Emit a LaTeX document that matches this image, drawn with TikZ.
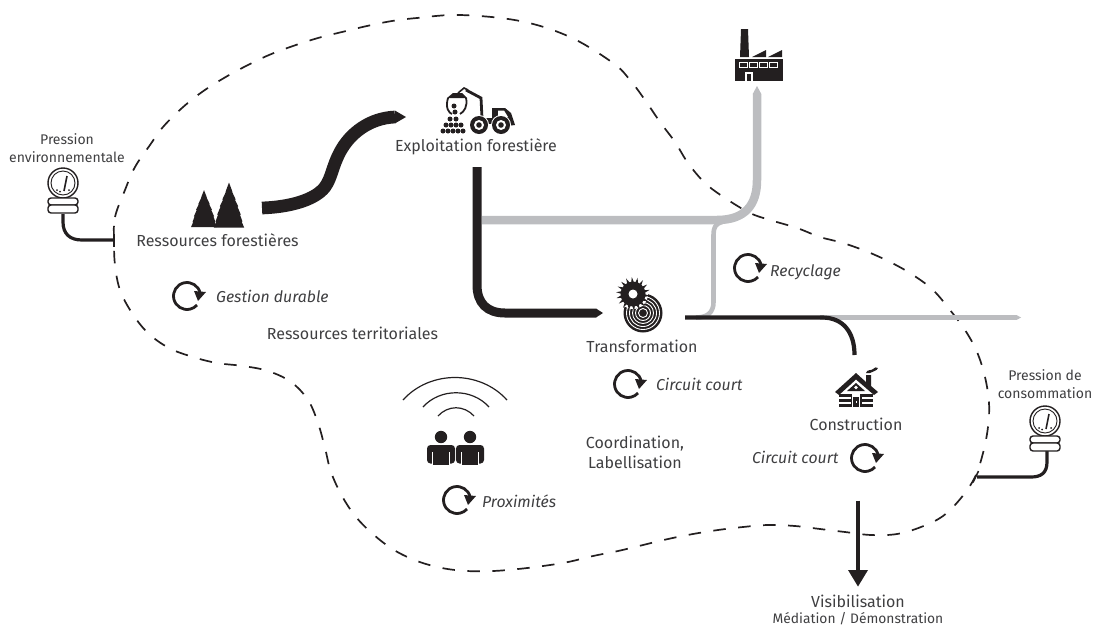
\documentclass[tikz,border=0pt]{standalone}
\usepackage{fontspec}
\setmainfont{Fira Sans}
\definecolor{ink}{HTML}{231F20}
\definecolor{txt}{HTML}{3F3F41}
\definecolor{pipe}{HTML}{BCBDC0}
\tikzset{
  lab/.style={text=txt,font=\fontsize{16}{18}\selectfont,inner sep=0pt,align=center},
  ital/.style={lab,font=\fontsize{15.8}{18}\selectfont\itshape,anchor=west},
  small/.style={lab,font=\fontsize{14}{18}\selectfont},
  boundary/.style={draw=ink,line width=1.7pt,dash pattern=on 12.5pt off 12.5pt},
  darkpipe/.style={draw=ink,line cap=butt},
  greypipe/.style={draw=pipe,line cap=butt},
  cycle/.pic={
    \draw[ink,line width=2.8pt] (-12:13.5) arc[start angle=-12,end angle=-318,radius=13.5];
    \fill[ink] (7,-5) -- (19,-4) -- (11,5) -- cycle;
  },
  gauge/.pic={
    \draw[ink,line width=1.4pt,fill=white] (0,0) circle[radius=15];
    \draw[ink,line width=.9pt] (0,0) circle[radius=12];
    \draw[ink,line width=1.6pt] (1,8) -- (4,-7);
    \fill[ink] (-6,7) circle[radius=1] (6,7) circle[radius=1] (-3,8.5) circle[radius=1];
    \draw[ink,line width=1.4pt,fill=white,rounded corners=3pt] (-15,15) rectangle (15,22);
    \draw[ink,line width=1.4pt,fill=white,rounded corners=3pt] (-15,22) rectangle (15,30);
  },
  fir/.pic={
    \fill[ink] (0,-45) -- (4,-36) -- (3.5,-36) -- (8,-28) -- (7,-28) -- (11,-21) -- (10,-21) -- (14,-13) -- (13,-13) -- (16,-6) -- (15,-6) -- (18,0) -- (-18,0) -- (-15,-6) -- (-16,-6) -- (-13,-13) -- (-14,-13) -- (-10,-21) -- (-11,-21) -- (-7,-28) -- (-8,-28) -- (-3.5,-36) -- (-4,-36) -- cycle;
  },
  person/.pic={
    \fill[ink] (0,0) circle[radius=6.2];
    \fill[ink,rounded corners=3.5pt] (-14,8) rectangle (14,26.5);
    \fill[ink] (-8,18) rectangle (8,28);
    \fill[white] (-9.3,15) rectangle (-8,28);
    \fill[white] (8,15) rectangle (9.3,28);
  }
}
\begin{document}
\begin{tikzpicture}[x=1pt,y=-1pt]
\useasboundingbox (0,0) rectangle (1094,627);
% boundary
\draw[boundary] plot[smooth cycle,tension=.6] coordinates {
 (114,240) (115,217) (125,190) (135,167) (150,145) (163,127) (182,108) (202,92) (224,78) (246,66) (269,55) (293,46) (318,38) (342,32) (367,26) (392,21) (417,18) (460,15) (520,21) (570,37) (613,63) (630,80) (645,100) (660,122) (675,142) (688,163) (705,183) (725,198) (750,213) (770,220) (797,228) (820,237) (843,243) (868,252) (892,263) (913,275) (933,290) (950,310) (965,330) (977,352) (985,377) (989,403) (988,427) (983,453) (975,477) (961,498) (943,516) (921,527) (897,534) (871,535) (845,532) (820,529) (795,526) (768,525) (743,527) (718,530) (693,534) (668,539) (643,545) (618,551) (593,556) (568,562) (543,566) (518,569) (493,571) (467,571) (442,568) (417,561) (394,550) (374,535) (356,517) (342,496) (331,472) (325,448) (318,423) (308,400) (291,382) (268,371) (243,366) (217,363) (193,357) (169,348) (148,333) (132,313) (120,290) (115,265)
};
% text nodes
\node[small] (penv) at (67,148) {Pression\\environnementale};
\node[lab] (res) at (217.5,240) {Ressources forestières};
\node[lab] (exp) at (476,147) {Exploitation forestière};
\node[lab] (terr) at (352.5,333) {Ressources territoriales};
\node[lab] (tra) at (642,346) {Transformation};
\node[lab,text depth=0pt] (coo) at (635,452) {Coordination,\\[2pt]Labellisation};
\node[lab] (con) at (856,424) {Construction};
\node[small] (pcon) at (1045,384) {Pression de\\consommation};
\node[lab] (vis) at (858,601.5) {Visibilisation};
\node[small,font=\fontsize{13.8}{18}\selectfont] (med) at (858,619) {Médiation / Démonstration};
\node[ital] (ges) at (216,296) {Gestion durable};
\node[ital] (rec) at (770,272) {Recyclage};
\node[ital] (cc1) at (656,384) {Circuit court};
\node[ital] (cc2) at (752,457) {Circuit court};
\node[ital] (pro) at (482,501) {Proximités};
% pipes
\coordinate (g0) at (482,220); \coordinate (g1) at (757,94);
\draw[greypipe,line width=8.5pt] (g0) -- (717,220) .. controls (745,220) and (757,205) .. (757,180) -- (g1);
\fill[pipe] (752.7,94) -- (757,86) -- (761.3,94) -- cycle;
\draw[greypipe,line width=4.6pt] (722,222) .. controls (715,224) and (713.5,228) .. (713.5,235) -- (713.5,302) .. controls (713.5,312) and (708,317.5) .. (696,317.5);
\draw[greypipe,line width=4.4pt] (820,317.5) -- (1017,317.5);
\fill[pipe] (1017,315.3) -- (1021,317.5) -- (1017,319.7) -- cycle;
\draw[darkpipe,line width=4.2pt] (685,317.5) -- (822,317.5) .. controls (843,317.5) and (854.5,332) .. (854.5,355);
\draw[darkpipe,line width=9pt] (477,167) -- (477,285) .. controls (477,303) and (487,313) .. (505,313) -- (596,313);
\fill[ink] (596,308.5) -- (603,313) -- (596,317.5) -- cycle;
\draw[darkpipe,line width=12.7pt] (262,208) .. controls (290,207) and (315,200) .. (325,187) .. controls (332,177) and (332,167) .. (340,152) .. controls (350,133) and (370,118) .. (395,117);
\fill[ink] (395,110.6) -- (406,117) -- (395,123.4) -- cycle;
% tees
\draw[ink,line width=3.2pt] (63,214) -- (63,222) .. controls (63,234) and (70,240) .. (82,240) -- (114,240);
\draw[ink,line width=1.5pt] (114,234.5) -- (114,247);
\draw[ink,line width=3.2pt] (1047,451) -- (1047,462) .. controls (1047,473) and (1041,477) .. (1031,477) -- (977,477);
\draw[ink,line width=1.5pt] (978.5,471) -- (973,482.5);
% visibility arrow
\draw[ink,line width=4.6pt] (858,500.5) -- (858,571);
\fill[ink] (848,570) -- (868,570) -- (858,586.5) -- cycle;
% icons
\pic at (63,183) {gauge};
\pic at (1045,421) {gauge};
\pic[xscale=.72,yscale=.82] at (204,227) {fir};
\pic[xscale=.84] at (229,227.5) {fir};
\pic at (187,296) {cycle};
\pic at (748,268) {cycle};
\pic at (628,384) {cycle};
\pic at (865,458) {cycle};
\pic at (457,500) {cycle};
% factory
\fill[ink] (735,59) rectangle (783,81);
\fill[ink] (740,57) -- (741,29) -- (748,29) -- (749,57) -- cycle;
\fill[ink] (752,57) -- (766,50) -- (766,57) -- cycle;
\fill[ink] (768,57) -- (782,50) -- (782,57) -- cycle;
\foreach \x in {739,749,759,769} \draw[white,line width=.8pt] (\x,62.5) rectangle (\x+8,67);
\fill[white] (745,72) rectangle (753,81);
\fill[ink] (747,74) rectangle (751,81);
% forwarder
\foreach \x/\y in {443/131,448/131,453/131,458/131,463/131,446/125,451/125,456/125,461/125,450/119,456/119,455/112,454/106}
  \fill[ink] (\x,\y) circle[radius=2.5];
\draw[ink,line width=1.8pt] (448,98) .. controls (445,108) and (449,113) .. (452,114) (466,98) .. controls (468,106) and (464,112) .. (460,114);
\fill[ink] (447,98) -- (453,93) -- (462,93) -- (467,98) -- cycle;
\draw[ink,line width=1.6pt] (458,93) -- (464,88) -- (468,90);
\draw[ink,line width=2.8pt] (466,90) -- (481,98) -- (482,118);
\fill[ink] (472,118) rectangle (492,124);
\fill[ink] (492,108) -- (505,108) -- (511,113) -- (515,125) -- (492,128) -- cycle;
\fill[white] (498,110.5) -- (504,110.5) -- (508,117) -- (498,117) -- cycle;
\foreach \x in {479,501} {
  \fill[white] (\x,125) circle[radius=10];
  \fill[ink] (\x,125) circle[radius=9];
  \fill[white] (\x,125) circle[radius=5];
  \fill[ink] (\x,125) circle[radius=2.8];
}
% saw and log
\fill[ink] (643,313) circle[radius=19.5];
\foreach \r in {16.5,13.5,10.5,7.5,4.5} \draw[white,line width=.9pt] (643,313) circle[radius=\r];
\fill[white] (633,294) circle[radius=15];
\foreach \a in {0,20,...,340} \fill[ink] ({633+11*cos(\a)},{294+11*sin(\a)}) -- ({633+17*cos(\a+6)},{294+17*sin(\a+6)}) -- ({633+11*cos(\a+16)},{294+11*sin(\a+16)}) -- cycle;
\fill[ink] (633,294) circle[radius=12.5];
\fill[white] (633,294) circle[radius=4.5];
% house
\fill[ink] (835,392) -- (856,373) -- (866,382) -- (866,375) -- (871,375) -- (871,386) -- (878,392) -- (874,395) -- (856,379.5) -- (839,395) -- cycle;
\fill[ink] (866,373) .. controls (867,369) and (871,371) .. (873,369) .. controls (874,367) and (877,367) .. (878,368) .. controls (877,371) and (873,371) .. (870,373) -- cycle;
\fill[ink] (847,391) -- (856,383) -- (865,391) -- cycle;
\fill[white] (856,387.5) circle[radius=1.8];
\foreach \y in {394,398.5,403.5} {\fill[ink] (839,\y) rectangle (852,\y+3); \fill[ink] (860,\y) rectangle (873,\y+3);}
\fill[ink] (850.5,394) rectangle (852,406.5);
\fill[ink] (860,394) rectangle (861.5,406.5);
\fill[ink] (853,397) rectangle (859,407);
\fill[white] (855.5,401) rectangle (856.8,403);
% people
\pic at (441,437) {person};
\pic at (470,437) {person};
\draw[ink,line width=1.2pt] (403,400) .. controls (430,370) and (480,370) .. (507,400);
\draw[ink,line width=1.2pt] (423,407) .. controls (440,388) and (472,388) .. (489,407);
\draw[ink,line width=1.2pt] (438,416) .. controls (448,405) and (464,405) .. (474,416);
\end{tikzpicture}
\end{document}
